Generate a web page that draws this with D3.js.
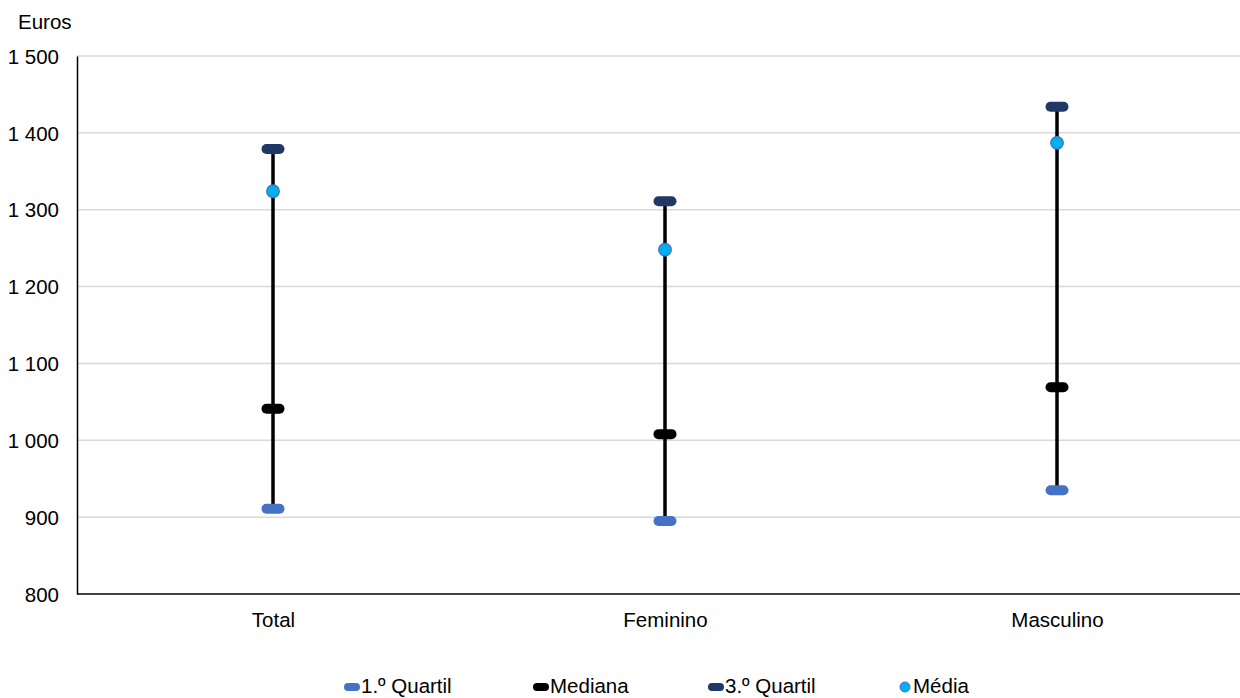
<!DOCTYPE html>
<html><head><meta charset="utf-8">
<script src="https://cdn.jsdelivr.net/npm/d3@7"></script>
<style>body{margin:0;background:#fff;} text{font-family:"Liberation Sans",Arial,sans-serif;}</style>
</head><body>
<svg id="c" width="1240" height="698"></svg>
<script>
const categories = ["Total", "Feminino", "Masculino"];
const q1 = [911, 895, 935];
const mediana = [1041, 1008, 1069];
const q3 = [1379, 1311, 1434];
const media = [1324, 1248, 1387];
const yTicks = [800, 900, 1000, 1100, 1200, 1300, 1400, 1500];
const legendLabels = ["1.º Quartil", "Mediana", "3.º Quartil", "Média"];

(function () {
const svg = d3.select("#c");
const FS = 20.5;
const mLeft = 77, mRight = 1253, mTop = 56, mBottom = 594;
const x = d3.scalePoint().domain(categories).range([mLeft, mRight]).padding(0.5);
const y = d3.scaleLinear().domain([800, 1500]).range([mBottom, mTop]);
const fmt = v => d3.format(",")(v).replace(",", " ");

// grid
svg.append("g").selectAll("line").data(yTicks.slice(1)).join("line")
  .attr("x1", mLeft).attr("x2", 1240).attr("y1", d => y(d)).attr("y2", d => y(d))
  .attr("stroke", "#d9d9d9").attr("stroke-width", 1.5);

// axes
const yAxis = d3.axisLeft(y).tickValues(yTicks).tickFormat(fmt).tickSize(0).tickPadding(18);
const gy = svg.append("g").attr("transform", `translate(${mLeft},0)`).call(yAxis);
gy.select(".domain").attr("stroke", "#000").attr("stroke-width", 1.5);
gy.selectAll("text").attr("font-size", FS).attr("fill", "#000").attr("font-family", "Liberation Sans, Arial, sans-serif").attr("dy", "0.35em");

const xAxis = d3.axisBottom(x).tickSize(0).tickPadding(18);
const gx = svg.append("g").attr("transform", `translate(0,${mBottom})`).call(xAxis);
gx.select(".domain").attr("d", `M${mLeft},0H1240`).attr("stroke", "#000").attr("stroke-width", 1.5);
gx.selectAll("text").attr("font-size", FS).attr("fill", "#000").attr("font-family", "Liberation Sans, Arial, sans-serif");

svg.append("text").attr("x", 18).attr("y", 29).attr("font-size", FS).text("Euros");

// vertical lines
svg.append("g").selectAll("line").data(categories).join("line")
  .attr("x1", d => x(d)).attr("x2", d => x(d))
  .attr("y1", (d, i) => y(q1[i])).attr("y2", (d, i) => y(q3[i]))
  .attr("stroke", "#000").attr("stroke-width", 3.5);

function dashes(vals, color) {
  svg.append("g").selectAll("rect").data(categories).join("rect")
    .attr("x", d => x(d) - 11.5).attr("y", (d, i) => y(vals[i]) - 5)
    .attr("width", 23).attr("height", 10).attr("rx", 5)
    .attr("fill", color);
}
dashes(q1, "#4472C4");
dashes(mediana, "#000");
dashes(q3, "#1F3864");

svg.append("g").selectAll("circle").data(categories).join("circle")
  .attr("cx", d => x(d)).attr("cy", (d, i) => y(media[i])).attr("r", 6.3)
  .attr("fill", "#00B0F0").attr("stroke", "#4472C4").attr("stroke-width", 1.3);

// legend
const legX = [344, 533, 708, 900];
const legColors = ["#4472C4", "#000", "#1F3864", "#00B0F0"];
const lg = svg.append("g");
legendLabels.forEach((lab, i) => {
  if (i < 3) {
    lg.append("rect").attr("x", legX[i]).attr("y", 683).attr("width", 16).attr("height", 8).attr("rx", 4).attr("fill", legColors[i]);
    lg.append("text").attr("x", legX[i] + 17).attr("y", 693).attr("font-size", FS).text(lab);
  } else {
    lg.append("circle").attr("cx", legX[i] + 5).attr("cy", 687).attr("r", 5).attr("fill", legColors[i]).attr("stroke", "#4472C4").attr("stroke-width", 1);
    lg.append("text").attr("x", legX[i] + 13).attr("y", 693).attr("font-size", FS).text(lab);
  }
});
})();
</script>
</body></html>
